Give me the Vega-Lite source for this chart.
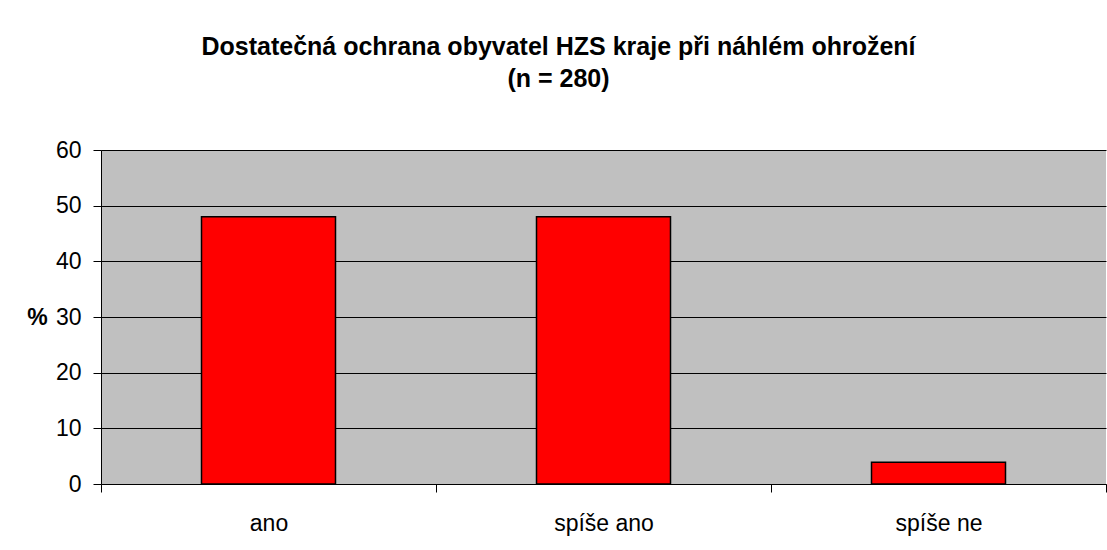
{
  "$schema": "https://vega.github.io/schema/vega-lite/v6.json",
  "width": 1005,
  "height": 334,
  "autosize": {"type": "none"},
  "padding": {"left": 101, "top": 150, "right": 1, "bottom": 66},
  "background": "white",
  "title": {
    "text": ["Dostatečná ochrana obyvatel HZS kraje při náhlém ohrožení", "(n = 280)"],
    "anchor": "middle",
    "dx": -45,
    "font": "Liberation Sans",
    "fontSize": 25,
    "fontWeight": "bold",
    "color": "black",
    "lineHeight": 32,
    "offset": 47
  },
  "data": {
    "values": [
      {"kategorie": "ano", "procento": 48},
      {"kategorie": "spíše ano", "procento": 48},
      {"kategorie": "spíše ne", "procento": 3.9}
    ]
  },
  "mark": {"type": "bar", "color": "#FF0000", "stroke": "black", "strokeWidth": 1.5, "width": {"band": 0.4}},
  "encoding": {
    "x": {
      "field": "kategorie",
      "type": "nominal",
      "sort": null,
      "scale": {"paddingInner": 0, "paddingOuter": 0},
      "axis": {
        "title": null,
        "labelAngle": 0,
        "labelFont": "Liberation Sans",
        "labelFontSize": 23,
        "labelColor": "black",
        "labelBaseline": "alphabetic",
        "labelPadding": 38,
        "tickBand": "extent",
        "tickSize": 8,
        "tickColor": "black",
        "domainColor": "black",
        "grid": false
      }
    },
    "y": {
      "field": "procento",
      "type": "quantitative",
      "scale": {"domain": [0, 60], "nice": false},
      "axis": {
        "title": "%",
        "titleAngle": 0,
        "titleFont": "Liberation Sans",
        "titleFontSize": 23,
        "titleFontWeight": "bold",
        "titleColor": "black",
        "titleAlign": "center",
        "titleBaseline": "middle",
        "titleX": -64,
        "titleY": 167,
        "values": [0, 10, 20, 30, 40, 50, 60],
        "labelFont": "Liberation Sans",
        "labelFontSize": 23,
        "labelColor": "black",
        "labelPadding": 12,
        "tickSize": 8,
        "tickColor": "black",
        "domainColor": "black",
        "grid": true,
        "gridColor": "black",
        "gridOpacity": 1,
        "gridWidth": 1
      }
    }
  },
  "config": {
    "view": {"fill": "#C0C0C0", "stroke": null}
  }
}
